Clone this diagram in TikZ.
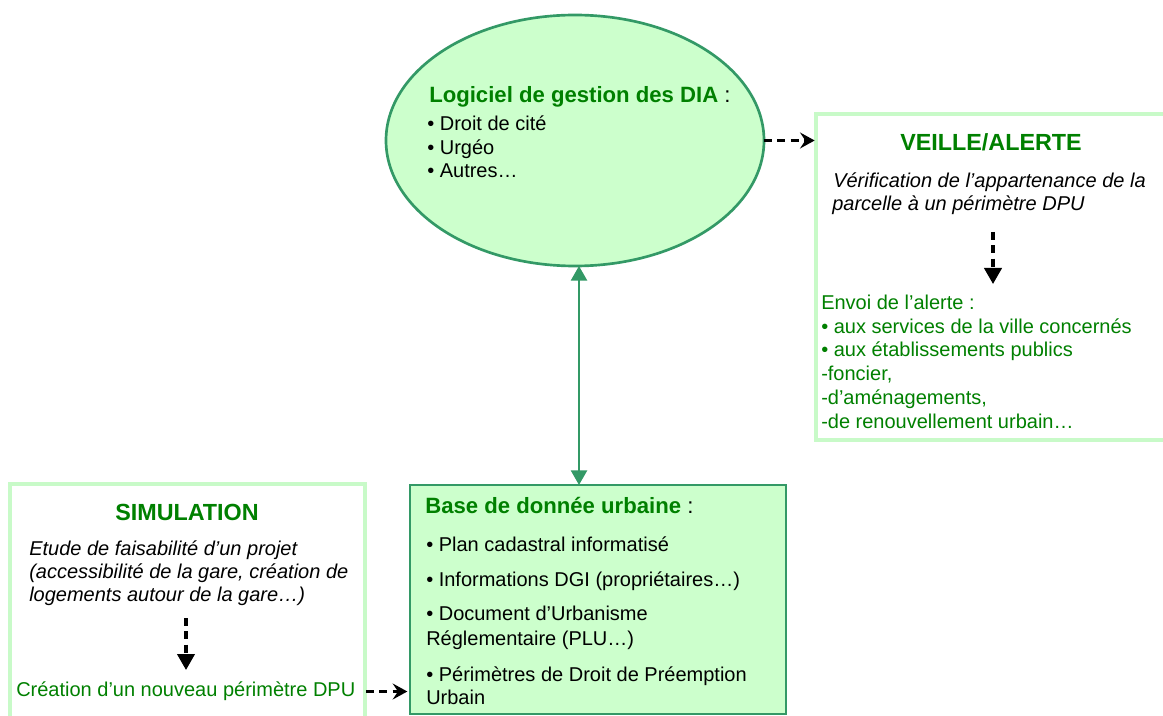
\documentclass[tikz,border=0pt]{standalone}
\usepackage{fontspec}
\setmainfont{Liberation Sans}
\usetikzlibrary{arrows.meta,shapes.geometric}
\definecolor{txtgreen}{RGB}{0,128,0}
\definecolor{edgegreen}{RGB}{51,153,102}
\definecolor{fillgreen}{RGB}{204,255,204}
\definecolor{lightedge}{RGB}{200,250,200}
\tikzset{
  body/.style={anchor=base west, inner sep=0pt, font=\fontsize{15}{18}\selectfont},
  ital/.style={body, font=\fontsize{15}{18}\selectfont\itshape},
  gbody/.style={body, text=txtgreen},
  head/.style={anchor=base west, inner sep=0pt, font=\fontsize{16.6}{19}\selectfont\bfseries, text=txtgreen},
  title/.style={anchor=base, inner sep=0pt, font=\fontsize{17.5}{20}\selectfont\bfseries, text=txtgreen},
  darkbox/.style={draw=edgegreen, fill=fillgreen, line width=2pt, inner sep=0pt, outer sep=0pt, anchor=north west},
  lightbox/.style={draw=lightedge, line width=2.3pt, inner sep=0pt, outer sep=0pt, anchor=north west},
  dasharrow/.style={black, line width=2.3pt, dash pattern=on 6pt off 4pt},
  hhead/.style={-{Stealth[length=11pt,width=12pt,inset=4pt]}},
  vhead/.style={-{Triangle[length=12pt,width=13pt]}},
}
\begin{document}
\begin{tikzpicture}[x=0.75pt,y=-0.75pt]
\clip (0,0) rectangle (1163,716);
\fill[white] (0,0) rectangle (1163,716);

% ellipse
\node[ellipse, draw=edgegreen, fill=fillgreen, line width=2pt, inner sep=0pt, outer sep=0pt,
      minimum width=283.5pt, minimum height=188.25pt] (dia) at (575,140.5) {};
\node[head] (diah) at (429,103) {Logiciel de gestion des DIA \textmd{\textcolor{black}{:}}};
\node[body] (dia1) at (427,131) {• Droit de cité};
\node[body] (dia2) at (427,154.3) {• Urgéo};
\node[body] (dia3) at (427,177.6) {• Autres…};

% veille box
\node[lightbox, minimum width=269.25pt, minimum height=244.5pt] (veille) at (816,114) {};
\node[title] (veilleh) at (991,150.5) {VEILLE/ALERTE};
\node[ital] (ver1) at (833,187.3) {Vérification de l’appartenance de la};
\node[ital] (ver2) at (832,210.6) {parcelle à un périmètre DPU};
\node[gbody] (env1) at (821,310) {Envoi de l’alerte :};
\node[gbody] (env2) at (821,333.5) {• aux services de la ville concernés};
\node[gbody] (env3) at (821,357) {• aux établissements publics};
\node[gbody] (env4) at (821,380.5) {-foncier,};
\node[gbody] (env5) at (821,404) {-d’aménagements,};
\node[gbody] (env6) at (821,428) {-de renouvellement urbain…};
\coordinate (va) at (993,232);
\coordinate (vb) at (993,284);

% simulation box
\node[lightbox, minimum width=266.25pt, minimum height=184.5pt] (sim) at (10,484) {};
\node[title] (simh) at (187,520) {SIMULATION};
\node[ital] (sim1) at (29,555.3) {Etude de faisabilité d’un projet};
\node[ital] (sim2) at (29,578.6) {(accessibilité de la gare, création de};
\node[ital] (sim3) at (29,601.9) {logements autour de la gare…)};
\node[gbody] (crea) at (16,696.5) {Création d’un nouveau périmètre DPU};
\coordinate (sa) at (186,618);
\coordinate (sb) at (186,670);
\coordinate (ca) at (366,691.5);

% base box
\node[darkbox, minimum width=282pt, minimum height=171.75pt] (base) at (410,485) {};
\node[head] (baseh) at (425,513) {Base de donnée urbaine \textmd{\textcolor{black}{:}}};
\node[body] (b1) at (426,551) {• Plan cadastral informatisé};
\node[body] (b2) at (426,586.7) {• Informations DGI (propriétaires…)};
\node[body] (b3) at (426,620.5) {• Document d’Urbanisme};
\node[body] (b4) at (426,645) {Réglementaire (PLU…)};
\node[body] (b5) at (426,681.7) {• Périmètres de Droit de Préemption};
\node[body] (b6) at (426,704.5) {Urbain};

% connectors
\draw[dasharrow, hhead, shorten >=1pt] (dia.east) -- (dia.east -| veille.west);
\draw[dasharrow, vhead] (va) -- (vb);
\draw[dasharrow, vhead] (sa) -- (sb);
\draw[dasharrow, hhead, shorten >=2pt] (ca) -- (ca -| base.west);
\draw[edgegreen, line width=1.9pt, {Triangle[length=11pt,width=12pt]}-{Triangle[length=11pt,width=12pt]}]
  ([xshift=3pt]dia.south) -- ([xshift=3pt]dia.south |- base.north);
\end{tikzpicture}
\end{document}
